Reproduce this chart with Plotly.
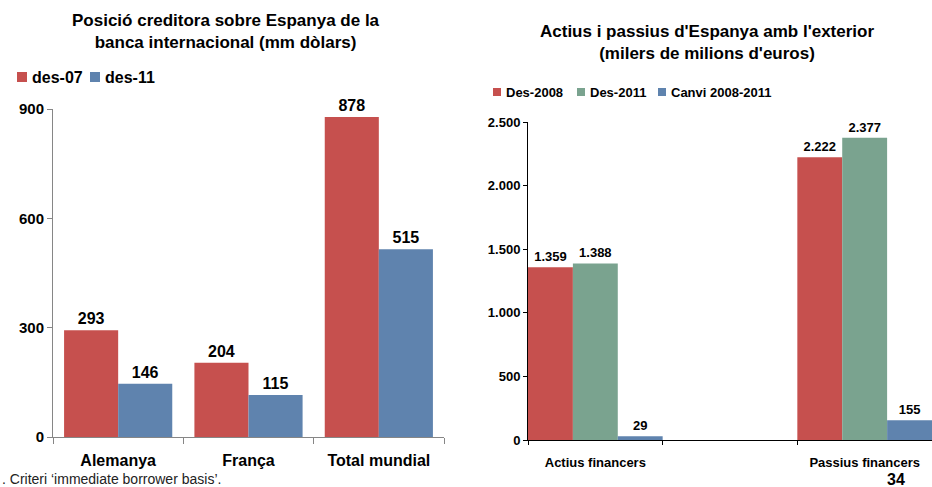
import plotly.graph_objects as go

# left chart: creditor position of international banks on Spain (bn dollars)
banks = ['Alemanya', 'França', 'Total mundial']
left_series = ['des-07', 'des-11']
des07 = [293, 204, 878]
des11 = [146, 115, 515]

# right chart: Spain's external assets and liabilities (bn euros)
items = ['Actius financers', ' ', 'Passius financers']
right_series = ['Des-2008', 'Des-2011', 'Canvi 2008-2011']
des2008 = [1359, None, 2222]
des2011 = [1388, None, 2377]
canvi = [29, None, 155]

RED = '#C6504E'
BLUE = '#5F83AE'
GREEN = '#7AA38F'
FONT = 'Liberation Sans, Arial, sans-serif'

W, H = 932, 487


def fx(px):
    return px / W


def fy(px):
    return 1 - px / H


fig = go.Figure()

# left chart bars
bw = 0.415
for name, vals, color, off in zip(left_series, [des07, des11], [RED, BLUE], [-bw, 0]):
    fig.add_trace(go.Bar(
        x=banks, y=vals, name=name, marker_color=color, marker_line_width=0,
        offset=off, width=bw,
        texttemplate='%{y}', textposition='outside', cliponaxis=False,
        constraintext='none',
        textfont=dict(family=FONT, size=16, color='black', weight='bold'),
        xaxis='x', yaxis='y',
    ))

# right chart bars
rw = 1 / 3
for name, vals, color, off in zip(right_series, [des2008, des2011, canvi],
                                  [RED, GREEN, BLUE], [-0.5, -0.5 + rw, -0.5 + 2 * rw]):
    fig.add_trace(go.Bar(
        x=items, y=vals, name=name, marker_color=color, marker_line_width=0,
        offset=off, width=rw,
        texttemplate='%{y:,.0f}', textposition='outside', cliponaxis=False,
        constraintext='none',
        textfont=dict(family=FONT, size=13, color='black', weight='bold'),
        xaxis='x2', yaxis='y2',
    ))

# compact Excel-style legends: small square + label
shapes = []
annotations = []
legend_specs = [
    (left_series, [RED, BLUE], [17, 90], 10, 77, 16),
    (right_series, [RED, GREEN, BLUE], [493, 577, 658], 8, 92, 13),
]
for names, colors, xs, size, yc, fsize in legend_specs:
    for name, color, x0 in zip(names, colors, xs):
        shapes.append(dict(type='rect', xref='paper', yref='paper',
                           x0=fx(x0), x1=fx(x0 + size),
                           y0=fy(yc + size / 2), y1=fy(yc - size / 2),
                           fillcolor=color, line_width=0))
        annotations.append(dict(text=name, x=fx(x0 + size + 3), y=fy(yc),
                                xref='paper', yref='paper', showarrow=False,
                                xanchor='left', yanchor='middle',
                                font=dict(family=FONT, size=fsize, color='black',
                                          weight='bold')))

annotations += [
    dict(text='Posició creditora sobre Espanya de la<br>banca internacional (mm dòlars)',
         x=fx(226), y=fy(32), xref='paper', yref='paper', showarrow=False,
         xanchor='center', yanchor='middle',
         font=dict(family=FONT, size=17, color='black', weight='bold')),
    dict(text="Actius i passius d'Espanya amb l'exterior<br>(milers de milions d'euros)",
         x=fx(707), y=fy(42), xref='paper', yref='paper', showarrow=False,
         xanchor='center', yanchor='middle',
         font=dict(family=FONT, size=17, color='black', weight='bold')),
    dict(text='. Criteri ‘immediate borrower basis’.',
         x=0, y=fy(479), xref='paper', yref='paper', showarrow=False,
         xanchor='left', yanchor='middle',
         font=dict(family=FONT, size=14, color='#222222')),
    dict(text='34', x=fx(896), y=fy(479), xref='paper', yref='paper', showarrow=False,
         xanchor='center', yanchor='middle',
         font=dict(family=FONT, size=16, color='black', weight='bold')),
]

grey = '#868686'
fig.update_layout(
    width=W, height=H,
    margin=dict(l=0, r=0, t=0, b=0, autoexpand=False),
    paper_bgcolor='white', plot_bgcolor='white',
    barmode='overlay',
    showlegend=False,
    separators=',.',
    font=dict(family=FONT, color='black'),
    xaxis=dict(domain=[fx(53), fx(444)], anchor='y', type='category',
               tickson='boundaries', ticks='outside', ticklen=6, tickcolor=grey,
               showline=True, linecolor=grey, linewidth=1, showgrid=False,
               ticklabelstandoff=9, automargin=False,
               tickfont=dict(family=FONT, size=16, color='black', weight='bold')),
    yaxis=dict(domain=[fy(437), fy(109)], anchor='x', range=[0, 900],
               tickvals=[0, 300, 600, 900], ticks='outside', ticklen=5, tickcolor=grey,
               showline=True, linecolor=grey, linewidth=1, showgrid=False, zeroline=False,
               automargin=False,
               tickfont=dict(family=FONT, size=15, color='black', weight='bold')),
    xaxis2=dict(domain=[fx(528), 1.0], anchor='y2', type='category',
                tickson='boundaries', ticks='outside', ticklen=4, tickcolor='black',
                showline=True, linecolor='black', linewidth=1, showgrid=False,
                ticklabelstandoff=10, automargin=False,
                tickfont=dict(family=FONT, size=13, color='black', weight='bold')),
    yaxis2=dict(domain=[fy(440), fy(122)], anchor='x2', range=[0, 2500],
                dtick=500, tickformat=',.0f', ticks='outside', ticklen=4, tickcolor='black',
                showline=True, linecolor='black', linewidth=1, showgrid=False, zeroline=False,
                automargin=False,
                tickfont=dict(family=FONT, size=13, color='black', weight='bold')),
    shapes=shapes,
    annotations=annotations,
)

# the page's default body margin would push the figure off the window
fig.write_html('out.html', config={'displayModeBar': False},
               post_script="document.body.style.margin='0';")
